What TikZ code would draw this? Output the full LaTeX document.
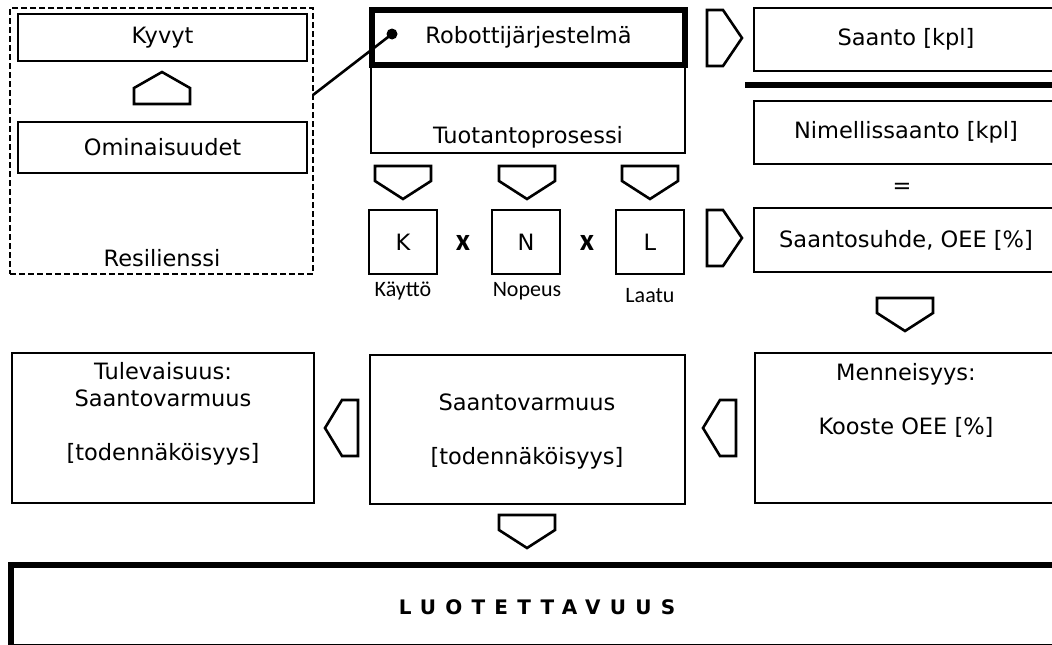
\documentclass[tikz,border=0pt]{standalone}
\usepackage{fontspec}
\setmainfont{DejaVu Sans}
\newfontfamily\calfont{Carlito}
\usetikzlibrary{calc}

\tikzset{
  box/.style={draw, line width=2.8pt, inner sep=0pt, outer sep=0pt},
  thickbox/.style={draw, line width=5.5pt, inner sep=0pt, outer sep=0pt},
  dashbox/.style={draw, line width=2.8pt, dash pattern=on 6pt off 3pt, inner sep=0pt, outer sep=0pt},
  arrowshape/.style={draw, line width=2.6pt, line join=miter},
  sublbl/.style={font=\calfont\fontsize{22}{26}\selectfont},
  kerto/.style={font=\calfont\bfseries\fontsize{31}{33}\selectfont},
}

\begin{document}
\begin{tikzpicture}[x=1pt,y=-1pt,font=\fontsize{22.5}{27}\selectfont,align=center]
\useasboundingbox (0,0) rectangle (1052,645);
\fill[white] (0,0) rectangle (1052,645);
\clip (0,0) rectangle (1052,645);

% resilienssi
\node[dashbox, minimum width=303, minimum height=266] (resil) at (161.5,141) {};
\node[box, minimum width=289, minimum height=47] (kyvyt) at (162.5,37.5) {Kyvyt};
\node[box, minimum width=289, minimum height=51] (omin) at (162.5,147.5) {Ominaisuudet};
\node (resillbl) at (162,258) {Resilienssi};
\draw[arrowshape] (134,104) -- (134,88) -- (162,72) -- (190,88) -- (190,104) -- cycle;

% tuotantoprosessi
\node[box, minimum width=314, minimum height=143] (tuot) at (528,81.5) {};
\node[thickbox, minimum width=313, minimum height=55] (robot) at (528.5,37.5) {Robottijärjestelmä};
\node (tuotlbl) at (528,137) {Tuotantoprosessi};
\coordinate (resilreuna) at (313,95);
\coordinate (kytkin) at (392,34);
\draw[line width=2.6pt] (resilreuna) -- (kytkin);
\fill (kytkin) circle (5.5);

% K x N x L
\foreach \n/\t/\x in {k/K/403,n/N/526,l/L/650}
  \node[box, minimum width=68, minimum height=64] (\n) at (\x,242) {\t};
\node[kerto] (kerto1) at (463,243) {x};
\node[kerto] (kerto2) at (587,243) {x};
\node[sublbl] (kayttolbl) at (403,291) {Käyttö};
\node[sublbl] (nopeuslbl) at (527,291) {Nopeus};
\node[sublbl] (laatulbl) at (650,296) {Laatu};

% saanto / nimellissaanto
\node[box, minimum width=304, minimum height=63] (saanto) at (906,39.5) {Saanto [kpl]};
\coordinate (erotinA) at (745,85);
\coordinate (erotinB) at (1060,85);
\draw[line width=5.5pt] (erotinA) -- (erotinB);
\node[box, minimum width=304, minimum height=63] (nimel) at (906,132.5) {Nimellissaanto [kpl]};
\node (yhtasuuri) at (902,188) {=};
\node[box, minimum width=304, minimum height=64] (suhde) at (906,240) {Saantosuhde, OEE [\%]};

% alarivi
\node[box, minimum width=302, minimum height=150] (tulev) at (163,428) {};
\node (tulevlbl) at (163,414) {Tulevaisuus:\\Saantovarmuus\\[27pt]{[todennäköisyys]}};
\node[box, minimum width=315, minimum height=149] (saantov) at (527.5,429.5) {};
\node (saantovlbl) at (527,431) {Saantovarmuus\\[27pt]{[todennäköisyys]}};
\node[box, minimum width=302, minimum height=150] (mennei) at (906,428) {};
\node (menneilbl) at (906,400) {Menneisyys:\\[27pt]Kooste OEE [\%]};

\node[thickbox, line width=6pt, minimum width=1060, minimum height=82] (luot) at (541,606) {};
\node[font=\fontsize{20}{24}\selectfont\bfseries\addfontfeatures{LetterSpace=46}] (luotlbl) at (537,607) {LUOTETTAVUUS};

% nuolet
\foreach \x/\y in {403/166,527/166,650/166,905/298,527/515}
  \draw[arrowshape] (\x,\y) ++(-28,0) -- ++(56,0) -- ++(0,15) -- ++(-28,18) -- ++(-28,-18) -- cycle;
\foreach \y in {10,210}
  \draw[arrowshape] (707,\y) -- ++(16,0) -- ++(19,28) -- ++(-19,28) -- ++(-16,0) -- cycle;
\foreach \x in {358,736}
  \draw[arrowshape] (\x,400) -- ++(-16,0) -- ++(-17,28) -- ++(17,28) -- ++(16,0) -- cycle;
\end{tikzpicture}
\end{document}
